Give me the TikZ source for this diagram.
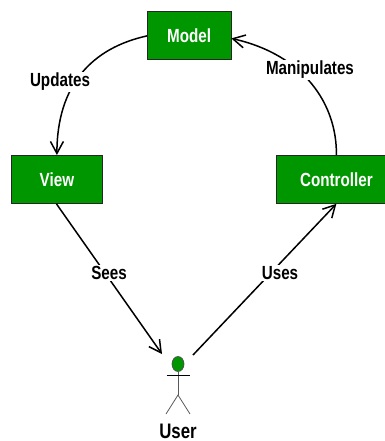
\documentclass[tikz,border=0pt]{standalone}
\usepackage{fontspec}
\setmainfont[FakeStretch=0.8]{Liberation Sans}
\usetikzlibrary{arrows.meta,shapes.geometric}
\definecolor{boxgreen}{RGB}{0,150,0}
\tikzset{
  boxnode/.style={draw=black!85,line width=0.8pt,fill=boxgreen,text=white,font=\bfseries\fontsize{19}{21}\selectfont,inner sep=0pt,anchor=north west},
  edgelabel/.style={fill=white,text=black,font=\bfseries\fontsize{19}{21}\selectfont,inner sep=1pt},
  flow/.style={line width=1.5pt,-{Straight Barb[length=12pt,width=13pt,line width=1.5pt]}},
  actorline/.style={line width=0.8pt,draw=black!65}
}
\begin{document}
\begin{tikzpicture}[x=1pt,y=-1pt]
\useasboundingbox (0,0) rectangle (384,441);
\node[boxnode,minimum width=83.5pt,minimum height=48pt] (model) at (147,11.5) {Model};
\node[boxnode,minimum width=91pt,minimum height=48pt] (view) at (11,155) {View};
\node[boxnode,minimum width=120pt,minimum height=48pt] (controller) at (276,155) {Controller};
\node[draw=black!70,line width=0.7pt,fill=boxgreen,ellipse,minimum width=12pt,minimum height=15pt,inner sep=0pt] (head) at (178,364) {};
\coordinate (armL) at (166.5,375);
\coordinate (armR) at (189.5,375);
\coordinate (hip) at (178,395);
\coordinate (legL) at (166,414);
\coordinate (legR) at (190,414);
\coordinate (seesEnd) at (162,354);
\coordinate (usesStart) at (193,355);
\draw[actorline] (head.south) -- (hip);
\draw[line width=0.8pt,black] (armL) -- (armR);
\draw[actorline] (legL) -- (hip) -- (legR);
\node[font=\bfseries\fontsize{21}{23}\selectfont,inner sep=0pt,anchor=base] (user) at (178,438) {User};
\draw[flow] (model.west) .. controls (92,48) and (57,85) .. (view.north);
\draw[flow] (controller.north) .. controls (337,105) and (305,55) .. ([yshift=-2.5pt]model.east);
\draw[flow] ([xshift=-0.5pt]view.south) -- (seesEnd);
\draw[flow] (usesStart) -- (controller.south);
\node[edgelabel] (updates) at (60,82) {Updates};
\node[edgelabel] (manip) at (310,70) {Manipulates};
\node[edgelabel] (sees) at (109,273) {Sees};
\node[edgelabel] (uses) at (280,273) {Uses};
\end{tikzpicture}
\end{document}
